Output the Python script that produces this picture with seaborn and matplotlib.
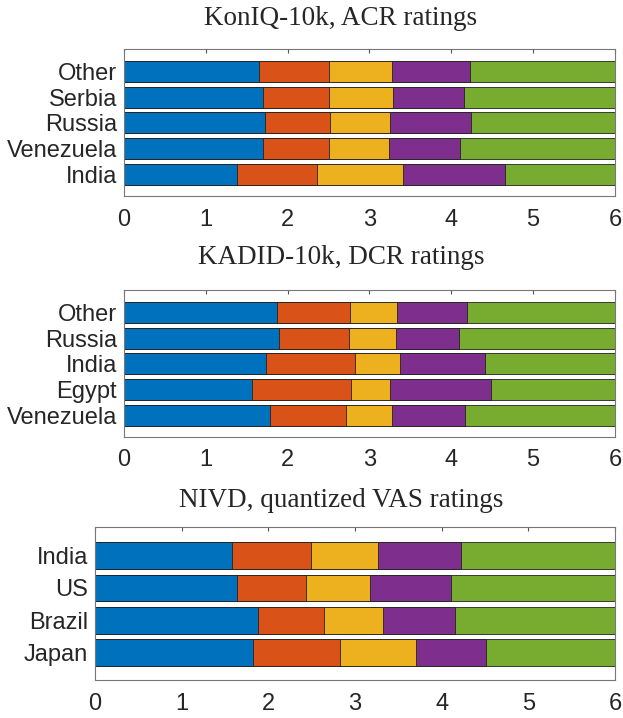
import numpy as np
import pandas as pd
import matplotlib
matplotlib.use("Agg")
import matplotlib.pyplot as plt
import seaborn as sns

# segment widths per rating level (1..5)
konIQ_names = ['Other', 'Serbia', 'Russia', 'Venezuela', 'India']
konIQ_vals = [[1.645, 0.855, 0.78, 0.95, 1.77],
              [1.70, 0.80, 0.785, 0.875, 1.84],
              [1.72, 0.80, 0.735, 0.98, 1.765],
              [1.70, 0.81, 0.725, 0.875, 1.89],
              [1.38, 0.975, 1.055, 1.25, 1.34]]

kadid_names = ['Other', 'Russia', 'India', 'Egypt', 'Venezuela']
kadid_vals = [[1.864, 0.896, 0.58, 0.85, 1.81],
              [1.90, 0.845, 0.585, 0.77, 1.90],
              [1.73, 1.09, 0.55, 1.04, 1.59],
              [1.56, 1.21, 0.485, 1.235, 1.51],
              [1.79, 0.92, 0.57, 0.89, 1.83]]

nivd_names = ['India', 'US', 'Brazil', 'Japan']
nivd_vals = [[1.58, 0.915, 0.775, 0.95, 1.78],
             [1.64, 0.795, 0.735, 0.94, 1.89],
             [1.88, 0.76, 0.685, 0.83, 1.845],
             [1.826, 1.004, 0.876, 0.808, 1.486]]

titles = ['KonIQ-10k, ACR ratings', 'KADID-10k, DCR ratings', 'NIVD, quantized VAS ratings']
colors = ['#0072BD', '#D95319', '#EDB120', '#7E2F8E', '#77AC30']

sns.set_style('white')
plt.rcParams['font.family'] = ['Liberation Sans', 'DejaVu Sans']

W, H = 623, 718
fig = plt.figure(figsize=(W / 100, H / 100), dpi=100)
boxes = [[0.1990, 0.727, 0.7881, 0.2047],
         [0.1990, 0.3914, 0.7881, 0.2047],
         [0.1525, 0.0529, 0.8347, 0.213]]
title_base = [25, 264, 507]   # title baselines, pixels from top
panels = [(konIQ_names, konIQ_vals), (kadid_names, kadid_vals), (nivd_names, nivd_vals)]

for box, (names, vals), title, tb in zip(boxes, panels, titles, title_base):
    ax = fig.add_axes(box)
    cum = np.cumsum(np.array(vals), axis=1)
    # draw cumulative ends from the longest back, so each segment shows
    for k in range(4, -1, -1):
        df = pd.DataFrame({'name': names, 'val': cum[:, k]})
        sns.barplot(data=df, x='val', y='name', color=colors[k], orient='h',
                    edgecolor='#222222', linewidth=0.6, width=0.82, saturation=1, ax=ax)
    n = len(names)
    ax.set_xlim(0, 6)
    ax.set_ylim(n - 1 + 0.845, -0.875)
    ax.set_xticks(range(7))
    ax.set_xlabel('')
    ax.set_ylabel('')
    ax.tick_params(direction='in', length=3, top=True, right=True, labelsize=17,
                   color='#555555', pad=5)
    ax.tick_params(axis='x', pad=9)
    for s in ax.spines.values():
        s.set_color('#777777')
        s.set_linewidth(0.8)
    fig.text(341 / W, 1 - tb / H, title, fontsize=19.5, family='Liberation Serif',
             ha='center', va='baseline')

fig.savefig('out.png', dpi=100)
